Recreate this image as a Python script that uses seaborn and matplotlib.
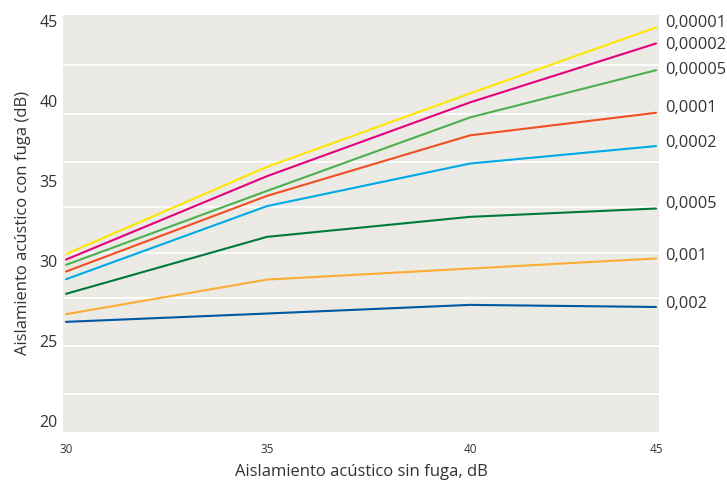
import numpy as np
import pandas as pd
import seaborn as sns
import matplotlib.pyplot as plt

sns.set_theme(style="white")
plt.rcParams['font.family'] = ['Open Sans', 'DejaVu Sans']

# datos
x_sin_fuga = [30, 35, 40, 45]
fugas = ['0,00001', '0,00002', '0,00005', '0,0001', '0,0002', '0,0005', '0,001', '0,002']
y_00001 = [30.41, 35.86, 40.45, 44.57]
y_00002 = [30.07, 35.28, 39.89, 43.57]
y_00005 = [29.74, 34.36, 38.95, 41.90]
y_0001 = [29.32, 34.05, 37.83, 39.24]
y_0002 = [28.84, 33.41, 36.07, 37.16]
y_0005 = [27.93, 31.49, 32.74, 33.26]
y_001 = [26.66, 28.82, 29.51, 30.14]
y_002 = [26.18, 26.70, 27.24, 27.11]
series = [y_00001, y_00002, y_00005, y_0001, y_0002, y_0005, y_001, y_002]

yticks = [20, 25, 30, 35, 40, 45]
xticks = [30, 35, 40, 45]
grid_y = [21.66, 24.66, 27.66, 30.47, 33.34, 36.16, 39.16, 42.22]
grid_x = [35, 40]

colores = ['#ffe500', '#e5007d', '#4caf50', '#f04e23', '#00a9e8',
           '#007a3a', '#fbad33', '#0057a3']
# ajuste vertical de las etiquetas (puntos)
label_dy = [3, -1.2, 0, 3.3, 2, 3.6, 1.7, 2]

# el eje x del original no es del todo lineal
escala_dat = [20, 30, 35, 40, 45, 55]
escala_pos = [-327, 66, 267, 470, 656, 1028]

def fwd(v):
    return np.interp(v, escala_dat, escala_pos)

def inv(p):
    return np.interp(p, escala_pos, escala_dat)

df = pd.DataFrame({
    'x': np.tile(x_sin_fuga, len(fugas)),
    'y': np.concatenate(series),
    'fuga': np.repeat(fugas, len(x_sin_fuga)),
})

fig = plt.figure(figsize=(7.27, 4.83), dpi=100)
ax = fig.add_axes([0.0867, 0.1056, 0.8198, 0.8634])
ax.set_facecolor('#ebeae4')
ax.set_xscale('function', functions=(fwd, inv))

sns.lineplot(data=df, x='x', y='y', hue='fuga', palette=colores,
             linewidth=1.5, legend=False, ax=ax)

ax.set_xlim(29.925, 45.08)
ax.set_ylim(19.3, 45.35)
ax.set_xticks(xticks)
ax.set_xticklabels([str(v) for v in xticks])
ax.set_yticks(yticks)
ax.set_yticks(grid_y, minor=True)
ax.set_xticks(grid_x, minor=True)
ax.xaxis.set_minor_formatter(plt.NullFormatter())
ax.grid(which='minor', color='white', linewidth=1.3)
ax.grid(which='major', visible=False)
ax.set_axisbelow(True)

for f, ys, c, dy in zip(fugas, series, colores, label_dy):
    ax.annotate(f, xy=(x_sin_fuga[-1], ys[-1]), xytext=(6.5, dy),
                textcoords='offset points', va='center', ha='left',
                fontsize=11.8, color='#333333', annotation_clip=False)

ax.tick_params(axis='x', which='both', length=0, pad=8, labelsize=8.5, colors='#333333')
ax.tick_params(axis='y', which='both', length=0, pad=4, labelsize=11.5, colors='#333333')
for s in ax.spines.values():
    s.set_visible(False)

ax.set_xlabel('Aislamiento acústico sin fuga, dB', fontsize=12, color='#333333', labelpad=6)
ax.set_ylabel('Aislamiento acústico con fuga (dB)', fontsize=12, color='#333333', labelpad=6)

fig.savefig('out.png', dpi=100)
